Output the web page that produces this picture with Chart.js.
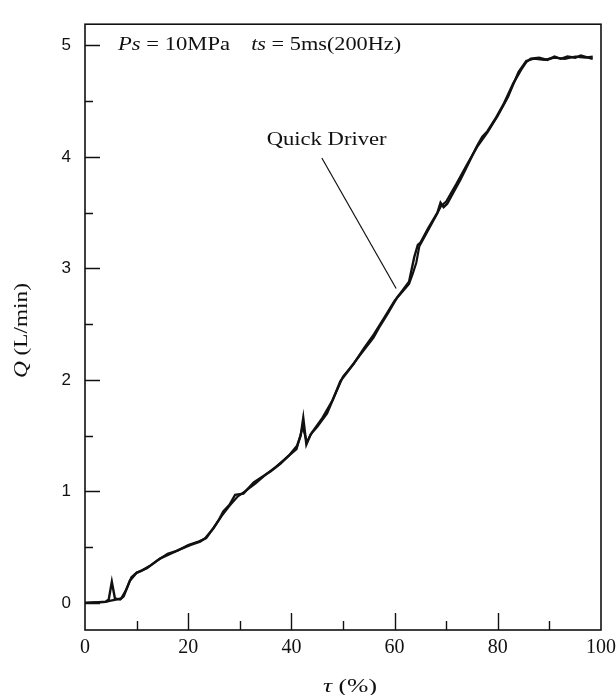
<!DOCTYPE html>
<html><head><meta charset="utf-8">
<script src="https://cdn.jsdelivr.net/npm/chart.js@4.4.1/dist/chart.umd.min.js"></script>
<style>html,body{margin:0;padding:0;background:#fff}#wrap{width:616px;height:695px}</style>
</head><body><div id="wrap"><canvas id="c" width="616" height="695"></canvas></div>
<script>
// trace 1: tau (%) and Q (L/min)
const tau1 = [0,2,4,4.6,5.2,5.8,6.8,7.5,8.7,10,11,12.5,14.6,16.5,18.4,20.5,22.3,23.3,24.9,26,26.8,28,29.1,30.7,32.7,34,36,37.9,39.5,41.1,41.8,42.3,42.9,43.7,45,46.9,48,49.5,51,53.4,55.9,57,58.6,60.5,61.5,62.8,63.8,64.5,65,66.5,68.3,68.9,69.5,70.2,71.5,72.8,74.5,76,77,78,79.5,81.2,83,84.5,85.5,86.4,88,89.6,91,92.2,93.5,95,96.1,97.5,98.4];
const q1   = [0,0.005,0.01,0.03,0.19,0.04,0.03,0.06,0.20,0.27,0.29,0.33,0.40,0.44,0.48,0.52,0.55,0.58,0.67,0.75,0.82,0.88,0.97,0.98,1.08,1.12,1.18,1.25,1.32,1.41,1.50,1.66,1.42,1.51,1.58,1.70,1.82,1.99,2.08,2.23,2.38,2.47,2.59,2.74,2.80,2.88,3.10,3.21,3.23,3.36,3.50,3.59,3.55,3.58,3.69,3.80,3.96,4.10,4.18,4.23,4.34,4.48,4.66,4.78,4.85,4.88,4.89,4.87,4.90,4.88,4.90,4.89,4.91,4.89,4.88];
// trace 2
const tau2 = [0,2,4,5,6,7,8,9,10,12,14,16,18,20,22,23.5,25,26.5,28,29.5,31,33,35,37,39,41,42.2,43,44,46,48,50,52,54,56,58,60,61.5,62.8,63.5,64.2,64.8,66,68,69,70,72,74,76,78,80,82,84,85.5,87,89,91,93,95,97,98.4];
const q2   = [0,0.005,0.01,0.02,0.03,0.04,0.12,0.23,0.27,0.31,0.38,0.44,0.47,0.52,0.55,0.58,0.68,0.78,0.87,0.95,1.00,1.07,1.15,1.22,1.30,1.38,1.58,1.44,1.53,1.66,1.82,2.03,2.14,2.28,2.41,2.56,2.71,2.79,2.86,2.95,3.05,3.20,3.30,3.47,3.56,3.60,3.76,3.93,4.09,4.22,4.37,4.54,4.76,4.86,4.88,4.87,4.89,4.88,4.90,4.89,4.90];
const xTicks = [0,20,40,60,80,100];
const yTicks = [0,1,2,3,4,5];
const xMinor = [10,30,50,70,90];
const yMinor = [0.5,1.5,2.5,3.5,4.5];
const noteQuick = "Quick Driver";
const xTitle = [['italic','τ'],['normal',' (%)']];
const yTitle = [['italic','Q'],['normal',' (L/min)']];
const header1 = [['italic','Ps'],['normal',' = 10MPa']];
const header2 = [['italic','ts'],['normal',' = 5ms(200Hz)']];

const serif = '"Liberation Serif", "DejaVu Serif", serif';

// draw a run of mixed-style text, squeezed/stretched to a target width
function runText(ctx, parts, size, x0, yc, width) {
  let w = 0;
  parts.forEach(([st, t]) => { ctx.font = st + ' ' + size + 'px ' + serif; w += ctx.measureText(t).width; });
  const k = width / w;
  ctx.save();
  ctx.translate(x0, yc);
  ctx.scale(k, 1);
  ctx.textBaseline = 'middle';
  ctx.textAlign = 'left';
  let tx = 0;
  parts.forEach(([st, t]) => {
    ctx.font = st + ' ' + size + 'px ' + serif;
    ctx.fillText(t, tx, 0);
    tx += ctx.measureText(t).width;
  });
  ctx.restore();
}

const deco = {
  id: 'deco',
  afterDraw(chart) {
    const {ctx, chartArea: a, scales: {x, y}} = chart;
    ctx.save();
    ctx.strokeStyle = '#111';
    ctx.lineWidth = 1.6;
    ctx.strokeRect(a.left, a.top, a.right - a.left, a.bottom - a.top);
    ctx.lineWidth = 1.4;
    ctx.beginPath();
    xTicks.concat(xMinor).forEach(v => {
      if (v <= 0 || v >= 100) return;
      const px = Math.round(x.getPixelForValue(v)) + 0.5;
      const len = xMinor.includes(v) ? 9 : 17;
      ctx.moveTo(px, a.bottom); ctx.lineTo(px, a.bottom - len);
    });
    yTicks.concat(yMinor).forEach(v => {
      const py = Math.round(y.getPixelForValue(v)) + 0.5;
      const len = yMinor.includes(v) ? 8 : 15;
      ctx.moveTo(a.left, py); ctx.lineTo(a.left + len, py);
    });
    ctx.stroke();

    ctx.fillStyle = '#111';
    // header annotation
    const hy = y.getPixelForValue(5.0);
    runText(ctx, header1, 19, x.getPixelForValue(6.4), hy, 112);
    runText(ctx, header2, 19, x.getPixelForValue(32.2), hy, 150);

    // Quick Driver label + leader line
    runText(ctx, [['normal', noteQuick]], 19, x.getPixelForValue(35.2), y.getPixelForValue(4.15), 120);
    ctx.lineWidth = 1.2;
    ctx.beginPath();
    ctx.moveTo(x.getPixelForValue(45.9), y.getPixelForValue(3.99));
    ctx.lineTo(x.getPixelForValue(60.3), y.getPixelForValue(2.82));
    ctx.stroke();

    // axis titles
    const xc = (a.left + a.right) / 2 + 7;
    runText(ctx, xTitle, 19, xc - 27, 687, 54);
    ctx.save();
    ctx.translate(22, (a.top + a.bottom) / 2 + 4);
    ctx.rotate(-Math.PI / 2);
    runText(ctx, yTitle, 19, -47, 0, 95);
    ctx.restore();
    ctx.restore();
  }
};

new Chart(document.getElementById('c'), {
  type: 'line',
  data: {
    datasets: [
      {data: tau1.map((t,i)=>({x:t,y:q1[i]})), borderColor:'#111', borderWidth:2.4, pointRadius:0, tension:0, fill:false},
      {data: tau2.map((t,i)=>({x:t,y:q2[i]})), borderColor:'#111', borderWidth:2.2, pointRadius:0, tension:0, fill:false}
    ]
  },
  options: {
    responsive: false,
    animation: false,
    devicePixelRatio: 1,
    layout: {padding: {left: 0, right: 15, top: 14, bottom: 0}},
    plugins: {legend: {display: false}, tooltip: {enabled: false}},
    scales: {
      x: {
        type: 'linear', min: 0, max: 100,
        afterBuildTicks: s => { s.ticks = xTicks.map(v => ({value: v})); },
        afterFit: s => { s.height = 65; s.paddingLeft = 0; s.paddingRight = 0; },
        grid: {display: false, drawTicks: false},
        border: {display: false},
        ticks: {color: '#111', padding: 6, font: {family: serif, size: 20}, maxRotation: 0},
        title: {display: false}
      },
      y: {
        type: 'linear', min: -0.243, max: 5.19,
        afterBuildTicks: s => { s.ticks = yTicks.map(v => ({value: v})); },
        afterFit: s => { s.width = 85; },
        grid: {display: false, drawTicks: false},
        border: {display: false},
        ticks: {color: '#111', padding: 14, font: {family: '"Liberation Sans", Arial, sans-serif', size: 17}},
        title: {display: false}
      }
    }
  },
  plugins: [deco]
});
</script></body></html>
